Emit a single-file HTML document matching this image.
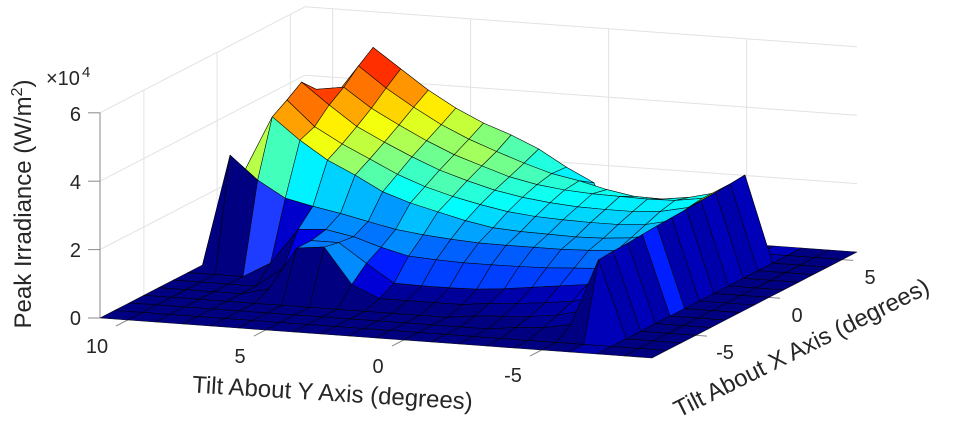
<!DOCTYPE html>
<html><head><meta charset="utf-8"><style>
html,body{margin:0;padding:0;background:#fff;width:959px;height:423px;overflow:hidden}
svg{display:block}
text{font-family:"Liberation Sans",Arial,Helvetica,sans-serif;fill:#262626}
</style></head><body>
<svg id="c" xmlns="http://www.w3.org/2000/svg" width="959" height="423" viewBox="0 0 959 423">
<rect width="959" height="423" fill="#fff"/>
<g stroke="#e2e2e2" stroke-width="1" fill="none">
<line x1="305" y1="143.6" x2="857" y2="183.6"/>
<line x1="305" y1="75.2" x2="857" y2="115.2"/>
<line x1="305" y1="6.8" x2="857" y2="46.8"/>
<line x1="332.6" y1="8.8" x2="332.6" y2="214"/>
<line x1="470.6" y1="18.8" x2="470.6" y2="224"/>
<line x1="608.6" y1="28.8" x2="608.6" y2="234"/>
<line x1="746.6" y1="38.8" x2="746.6" y2="244"/>
<line x1="100" y1="249.6" x2="305" y2="143.6"/>
<line x1="100" y1="181.2" x2="305" y2="75.2"/>
<line x1="100" y1="112.8" x2="305" y2="6.8"/>
<line x1="143.9" y1="90.1" x2="143.9" y2="295.3"/>
<line x1="217.1" y1="52.2" x2="217.1" y2="257.4"/>
<line x1="290.3" y1="14.4" x2="290.3" y2="219.6"/>
</g>
<g stroke="#8a8a8a" stroke-width="1">
<line x1="100" y1="318" x2="100" y2="112.8"/>
<line x1="88" y1="318" x2="100" y2="318"/>
<line x1="88" y1="249.6" x2="100" y2="249.6"/>
<line x1="88" y1="181.2" x2="100" y2="181.2"/>
<line x1="88" y1="112.8" x2="100" y2="112.8"/>
<line x1="127.6" y1="320" x2="115.9" y2="326.1"/>
<line x1="265.6" y1="330" x2="253.9" y2="336.1"/>
<line x1="403.6" y1="340" x2="391.9" y2="346.1"/>
<line x1="541.6" y1="350" x2="529.9" y2="356.1"/>
<line x1="695.9" y1="335.3" x2="706.9" y2="336.1"/>
<line x1="769.1" y1="297.4" x2="780.1" y2="298.2"/>
<line x1="842.3" y1="259.6" x2="853.3" y2="260.4"/>
</g>
<g id="surf" stroke="#000" stroke-width="0.6" stroke-linejoin="round" stroke-opacity="0.85"></g>
<g font-size="20">
<text x="81" y="325" text-anchor="end">0</text>
<text x="81" y="257" text-anchor="end">2</text>
<text x="81" y="189" text-anchor="end">4</text>
<text x="81" y="121" text-anchor="end">6</text>
<text x="97" y="353" text-anchor="middle">10</text>
<text x="240" y="363" text-anchor="middle">5</text>
<text x="378" y="373" text-anchor="middle">0</text>
<text x="513" y="382" text-anchor="middle">-5</text>
<text x="870" y="284" text-anchor="middle">5</text>
<text x="797" y="322" text-anchor="middle">0</text>
<text x="725" y="359" text-anchor="middle">-5</text>
</g>
<text x="46" y="85" font-size="20">×10</text>
<text x="82" y="77" font-size="15">4</text>
<text transform="translate(31,204) rotate(-90)" text-anchor="middle" font-size="24">Peak Irradiance (W/m<tspan font-size="16" dy="-9">2</tspan><tspan dy="9">)</tspan></text>
<text transform="translate(332,401) rotate(3.5)" text-anchor="middle" font-size="24">Tilt About Y Axis (degrees)</text>
<text transform="translate(805,355) rotate(-26.5)" text-anchor="middle" font-size="24">Tilt About X Axis (degrees)</text>
</svg>
<script>
const Z={
"6":[0,0,0,0,0,0,0,0,0,0,0,0,0,0,0,0,0,0,0,0,0],
"5":[0,0,0,5.21,4.64,4.08,3.61,3.23,2.94,2.59,2.12,1.72,0,0,0,0,0,0,0,0,0],
"4":[0,0,3.8,4.89,4.3,3.8,3.35,2.98,2.68,2.4,2.15,2.0,1.8,1.66,1.64,1.75,1.95,2.52,0,0,0],
"3":[0,0,4.37,4.49,3.93,3.5,3.1,2.75,2.48,2.22,2.05,1.95,1.9,1.88,1.86,1.88,2.0,2.48,0,0,0],
"2":[0,0,4.8,4.19,3.62,3.22,2.85,2.52,2.27,2.05,1.9,1.8,1.74,1.72,1.72,1.78,1.95,2.45,0,0,0],
"1":[0,0,4.5,3.78,3.33,2.95,2.56,2.26,2.03,1.85,1.7,1.62,1.58,1.56,1.56,1.62,1.8,2.43,0,0,0],
"0":[0,2.6,4.23,3.6,3.08,2.7,2.27,2.0,1.8,1.6,1.45,1.4,1.38,1.36,1.38,1.45,1.6,2.4,0,0,0],
"-1":[0,3.27,2.6,2.13,1.95,1.8,1.62,1.45,1.35,1.28,1.23,1.22,1.22,1.22,1.25,1.3,1.5,2.38,0,0,0],
"-2":[0,0,0,0.45,1.5,1.55,1.4,1.15,0.95,0.9,0.87,0.87,0.88,0.9,0.95,1.0,1.2,2.36,0,0,0],
"-3":[0,0,0,0,0.6,1.45,1.45,0.9,0.38,0.36,0.36,0.38,0.45,0.55,0.65,0.75,1.0,2.33,0,0,0],
"-4":[0,0,0,0,0.2,1.45,1.54,0.5,0.15,0.15,0.15,0.15,0.25,0.3,0.38,0.48,0.7,2.3,0,0,0],
"-5":[0,0,0,0,0,0,0,0,0,0,0,0,0.1,0.15,0.2,0.3,0.5,2.28,0,0,0],
"-6":[0,0,0,0,0,0,0,0,0,0,0,0,0,0,0.1,0.15,0.3,2.25,0,0,0],
"-7":[0,0,0,0,0,0,0,0,0,0,0,0,0,0,0,0,0,0,0,0,0],
"-8":[0,0,0,0,0,0,0,0,0,0,0,0,0,0,0,0,0,0,0,0,0]
};
function P(X,Y,z){return [100+14.64*(X+8)+27.6*(11-Y),318-7.57*(X+8)+2*(11-Y)-34.2*z];}
function zz(X,Y){const r=Z[String(X)];return r?r[11-Y]:0;}
function jet(t){t=Math.max(0,Math.min(1,t));const f=v=>Math.round(255*Math.max(0,Math.min(1,v)));
return "rgb("+f(1.5-Math.abs(4*t-3))+","+f(1.5-Math.abs(4*t-2))+","+f(1.5-Math.abs(4*t-1))+")";}
function cv(X,Y){
 if(Y===-5&&X>=-3&&X<=3){const add=X>=2?0.9:(X>=0?0.5:0.2);return zz(X+1,-6)+add;}
 if(Y<=4&&Y>=-4){
  if(X===-3&&Y<=3)return Math.max(zz(X,Y),1.1);
  if(X>=-2&&X<=3)return zz(X,Y)+0.4;
 }
 return zz(X,Y);
}
const faces=[];
for(let X=-8;X<6;X++)for(let Y=11;Y>-9;Y--){
 const c=[[X,Y],[X+1,Y],[X+1,Y-1],[X,Y-1]];
 const pts=c.map(q=>P(q[0],q[1],zz(q[0],q[1])));
 let col=jet(cv(X,Y)/5.9);
 if(Y===-6){col=(X===-3)?"rgb(0,30,255)":(X%2===0?"rgb(0,0,170)":"rgb(0,0,185)");}
 if(X===-2&&Y===9){col="rgb(30,60,255)";}
 faces.push({d:943.9*(X+0.5)+500.7*(Y-0.5),pts:pts,col:col});
}
faces.sort((a,b)=>b.d-a.d);
let s="";
for(const f of faces){s+='<polygon points="'+f.pts.map(p=>p[0].toFixed(1)+","+p[1].toFixed(1)).join(" ")+'" fill="'+f.col+'"/>';}
document.getElementById("surf").innerHTML=s;
</script>
</body></html>
